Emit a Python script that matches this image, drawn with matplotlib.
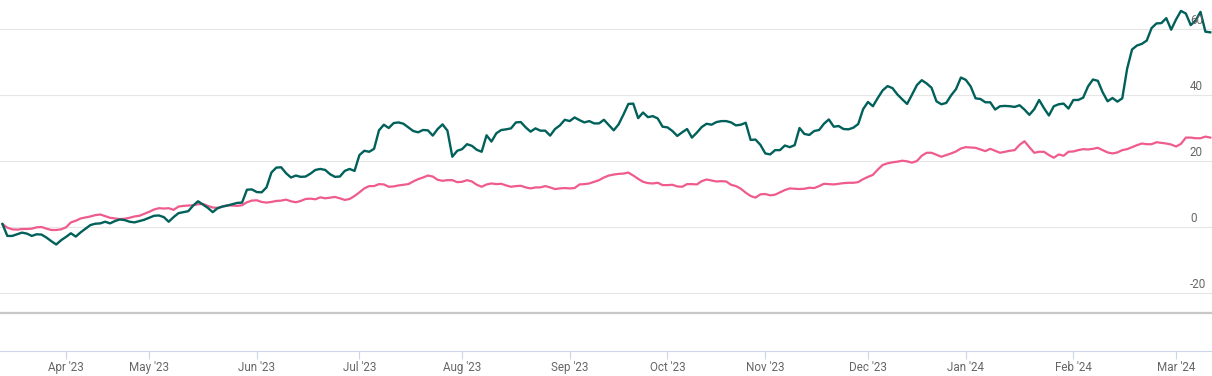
import matplotlib
matplotlib.use("Agg")
import matplotlib.pyplot as plt
import matplotlib.transforms as mtrans
import pandas as pd
import numpy as np

# ---- trading calendar (NSE sessions) ----
start_date = "2023-03-14"
end_date = "2024-03-13"
holidays = ["2023-03-30", "2023-04-04", "2023-04-07", "2023-04-14", "2023-05-01",
            "2023-06-29", "2023-08-15", "2023-09-19", "2023-10-02", "2023-10-24",
            "2023-11-14", "2023-11-27", "2023-12-25", "2024-01-22", "2024-01-26",
            "2024-03-08"]
special_sessions = ["2023-11-12", "2024-01-20"]

# ---- series values (% return) ----
stock = [
    0.9, -2.7, -2.7, -2.2, -1.7, -2.0, -2.7, -2.2, -2.3, -3.2,
    -4.3, -5.3, -4.0, -3.0, -1.9, -2.9, -1.6, -0.5, 0.6, 1.0,
    1.1, 1.6, 1.1, 1.8, 2.3, 2.1, 1.6, 1.4, 1.8, 2.2,
    2.8, 3.4, 3.5, 3.0, 1.6, 3.0, 4.2, 4.5, 4.8, 6.5,
    7.8, 6.8, 5.8, 4.5, 5.7, 6.2, 6.5, 6.9, 7.3, 7.4,
    11.3, 11.4, 10.6, 10.5, 12.0, 16.5, 18.0, 18.1, 16.3, 15.0,
    15.6, 15.2, 15.3, 16.2, 17.3, 17.6, 17.3, 16.0, 15.2, 15.3,
    17.0, 17.6, 17.0, 21.8, 23.1, 22.8, 23.7, 29.3, 31.0, 30.0,
    31.5, 31.7, 31.3, 30.2, 29.1, 28.7, 29.4, 29.3, 27.7, 29.7,
    31.1, 29.2, 21.3, 23.1, 23.6, 25.1, 24.6, 23.4, 22.8, 27.8,
    25.9, 28.4, 29.4, 29.6, 29.9, 31.7, 31.8, 30.2, 28.9, 29.9,
    29.2, 29.2, 27.7, 29.7, 30.8, 32.5, 32.1, 33.2, 32.4, 31.7,
    32.1, 31.4, 31.4, 32.5, 30.9, 29.3, 31.1, 34.1, 37.3, 37.4,
    33.0, 34.7, 33.3, 33.6, 32.9, 30.4, 30.2, 29.1, 27.6, 28.7,
    29.7, 27.1, 28.6, 30.3, 31.3, 31.0, 31.8, 32.1, 32.1, 31.7,
    30.8, 31.0, 31.6, 26.4, 26.5, 24.9, 22.3, 22.0, 23.3, 23.3,
    24.7, 24.2, 24.8, 30.0, 28.2, 27.9, 29.1, 29.4, 31.3, 32.6,
    30.4, 30.6, 29.7, 29.6, 30.1, 31.2, 35.7, 37.9, 36.6, 39.1,
    41.4, 42.7, 42.1, 40.2, 38.7, 37.3, 40.1, 43.0, 44.5, 43.5,
    42.2, 38.1, 37.2, 37.6, 39.9, 41.8, 45.3, 44.6, 42.6, 39.0,
    38.8, 37.8, 37.8, 35.6, 36.6, 36.7, 36.6, 36.4, 36.9, 35.6,
    34.0, 35.7, 38.5, 36.0, 33.8, 36.6, 37.2, 37.4, 35.9, 38.5,
    38.5, 39.2, 42.6, 44.7, 44.3, 40.8, 38.1, 39.1, 38.0, 39.0,
    48.0, 53.8, 55.0, 55.5, 56.5, 60.3, 61.7, 61.8, 63.3, 59.8,
    62.9, 65.5, 64.7, 61.2, 62.6, 65.2, 59.2, 59.0,
]

benchmark = [
    0.9, -0.2, -0.7, -0.8, -0.6, -0.6, -0.5, -0.1, 0.0, -0.5,
    -0.9, -0.9, -0.7, -0.1, 1.4, 1.9, 2.6, 2.9, 3.2, 3.6,
    3.8, 3.3, 2.8, 2.6, 2.4, 2.5, 2.8, 3.2, 3.4, 4.0,
    4.6, 5.3, 5.7, 5.6, 5.7, 5.2, 6.2, 6.4, 6.5, 6.6,
    6.9, 7.0, 6.4, 5.9, 5.8, 6.2, 6.6, 6.5, 6.4, 6.6,
    7.5, 8.0, 8.1, 7.6, 7.4, 7.6, 7.9, 8.0, 8.3, 7.8,
    7.5, 7.9, 8.5, 8.6, 8.4, 9.0, 8.7, 8.9, 9.1, 8.7,
    8.2, 8.5, 9.4, 10.5, 11.7, 12.4, 12.4, 13.0, 12.9, 12.2,
    12.3, 12.6, 12.8, 13.0, 13.8, 14.5, 15.0, 15.6, 15.3, 14.3,
    14.0, 14.2, 14.2, 13.6, 13.7, 14.2, 13.8, 12.8, 12.2, 12.9,
    13.2, 13.0, 13.1, 12.6, 12.2, 12.4, 12.5, 12.0, 11.7, 12.0,
    12.0, 12.4, 12.0, 11.5, 11.7, 11.8, 11.7, 11.8, 12.9, 13.0,
    13.2, 13.7, 14.2, 15.0, 15.6, 15.9, 16.1, 16.2, 16.5, 15.6,
    14.6, 13.7, 13.3, 13.2, 13.4, 12.7, 12.7, 12.8, 12.3, 12.2,
    13.0, 13.0, 12.9, 13.9, 14.4, 14.1, 13.8, 13.9, 13.8, 12.8,
    12.4, 11.6, 10.4, 9.4, 8.9, 9.9, 10.0, 9.6, 9.8, 10.5,
    11.2, 11.7, 11.6, 11.5, 11.6, 11.9, 11.8, 12.4, 13.1, 13.0,
    12.9, 13.1, 13.3, 13.4, 13.4, 13.6, 14.5, 15.2, 15.8, 17.4,
    18.8, 19.3, 19.6, 19.8, 20.1, 19.9, 19.5, 20.0, 21.6, 22.5,
    22.5, 21.9, 21.3, 21.8, 22.3, 22.9, 23.8, 24.2, 24.1, 24.0,
    23.5, 23.0, 23.7, 23.1, 22.5, 22.8, 23.1, 23.3, 24.9, 26.0,
    24.2, 22.5, 22.8, 22.8, 21.8, 21.0, 22.0, 21.6, 22.8, 22.9,
    23.3, 23.6, 23.5, 23.7, 24.0, 23.3, 22.6, 22.3, 22.6, 23.3,
    23.6, 24.2, 24.8, 25.3, 25.1, 25.1, 25.7, 25.5, 25.3, 25.0,
    24.4, 25.2, 27.1, 27.1, 26.9, 26.9, 27.4, 27.1,
]

y_ticks = [-20, 0, 20, 40, 60]

# ---- build ordinal date axis ----
days = pd.bdate_range(start_date, end_date)
days = days.difference(pd.to_datetime(holidays)).union(pd.to_datetime(special_sessions))
n = min(len(days), len(stock), len(benchmark))
days = days[:n]
stock = np.array(stock[:n])
benchmark = np.array(benchmark[:n])
idx = np.arange(n)

tick_pos, tick_lab = [], []
for i in range(1, n):
    if days[i].month != days[i - 1].month:
        tick_pos.append(i)
        tick_lab.append(days[i].strftime("%b '%y"))

FONT = "Roboto"
W, H = 1212, 376
fig = plt.figure(figsize=(W / 100, H / 100), dpi=100)
fig.patch.set_facecolor("white")

# main plot area: pixel rows 0..313
ax = fig.add_axes([0, 1 - 313 / H, 1, 313 / H])
ax.set_ylim(-26.06, 68.8)
ax.set_xlim(-0.5, 247.35)
for s in ["top", "left", "right"]:
    ax.spines[s].set_visible(False)
ax.spines["bottom"].set_color("#c8c8c8")
ax.spines["bottom"].set_linewidth(1.6)
ax.set_xticks([])
ax.set_yticks([])
ax.patch.set_alpha(0)

for v in y_ticks:
    ax.axhline(v, color="#e6e6e6", lw=0.8, zorder=1)

ax.plot(idx, benchmark, color="#ef5b8c", lw=1.6, zorder=3, solid_joinstyle="round")
ax.plot(idx, stock, color="#00605a", lw=1.7, zorder=4, solid_joinstyle="round")

blend = mtrans.blended_transform_factory(ax.transAxes, ax.transData)
lab_tr = mtrans.offset_copy(blend, fig=fig, x=0, y=2.5, units="dots")
for v in y_ticks:
    ax.text(1190 / W, v, f"{v}", transform=lab_tr, ha="left", va="bottom",
            fontsize=8.4, color="#666666", family=FONT, zorder=5)

# x axis at pixel row 351
ax2 = fig.add_axes([0, (H - 351) / H, 1, 1 / H])
ax2.set_xlim(ax.get_xlim())
ax2.patch.set_alpha(0)
for s in ["top", "left", "right"]:
    ax2.spines[s].set_visible(False)
ax2.spines["bottom"].set_color("#ccd6eb")
ax2.spines["bottom"].set_linewidth(0.8)
ax2.set_yticks([])
ax2.set_xticks(tick_pos)
ax2.set_xticklabels(tick_lab, family=FONT)
ax2.tick_params(axis="x", direction="out", length=5.8, width=0.8, color="#ccd6eb",
                labelcolor="#666666", labelsize=8.4, pad=1.6)

fig.savefig("out.png", dpi=100)
